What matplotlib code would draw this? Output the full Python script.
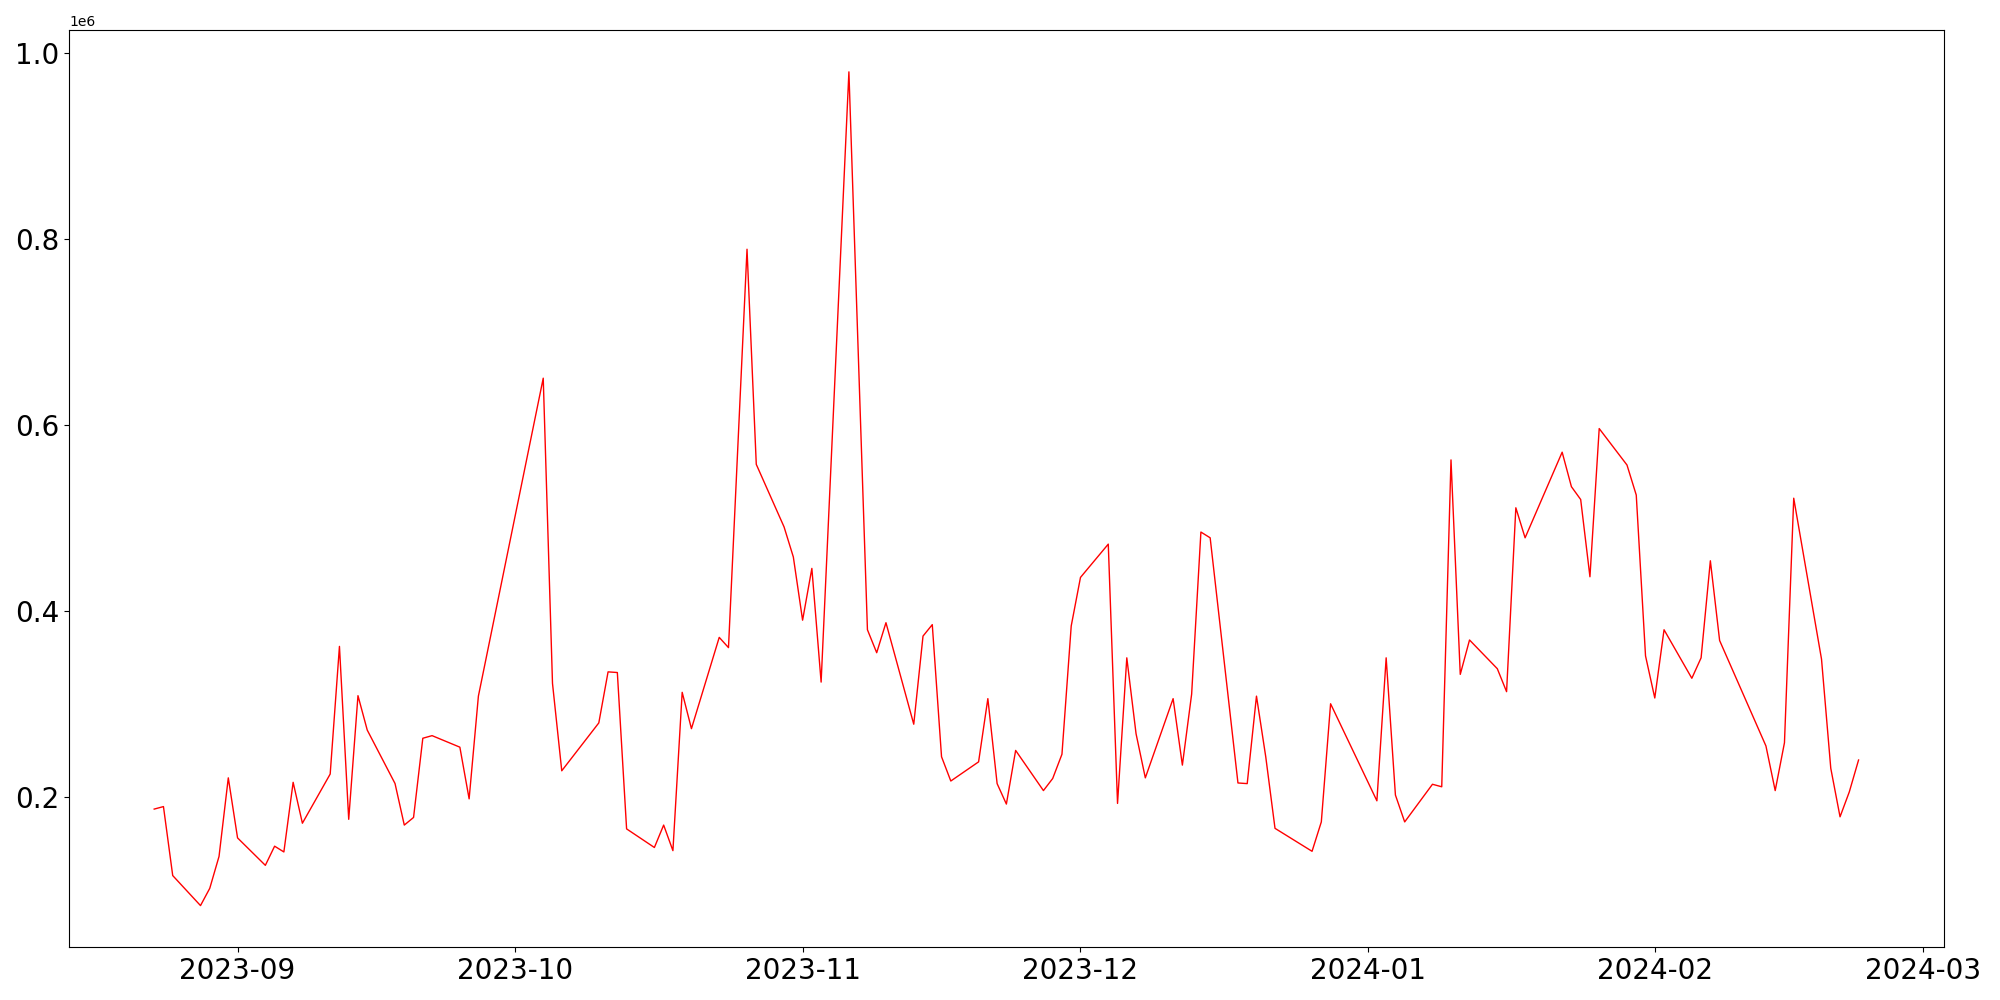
import matplotlib
matplotlib.use("Agg")
import matplotlib.pyplot as plt
import pandas as pd

# trading days (gaps = weekends / holidays / missing days)
dates = [
    "2023-08-23", "2023-08-24", "2023-08-25", "2023-08-28", "2023-08-29", "2023-08-30", "2023-08-31",
    "2023-09-01", "2023-09-04", "2023-09-05", "2023-09-06", "2023-09-07", "2023-09-08",
    "2023-09-11", "2023-09-12", "2023-09-13", "2023-09-14", "2023-09-15",
    "2023-09-18", "2023-09-19", "2023-09-20", "2023-09-21", "2023-09-22",
    "2023-09-25", "2023-09-26", "2023-09-27",
    "2023-10-04", "2023-10-05", "2023-10-06",
    "2023-10-10", "2023-10-11", "2023-10-12", "2023-10-13",
    "2023-10-16", "2023-10-17", "2023-10-18", "2023-10-19", "2023-10-20",
    "2023-10-23", "2023-10-24", "2023-10-26", "2023-10-27",
    "2023-10-30", "2023-10-31", "2023-11-01", "2023-11-02", "2023-11-03",
    "2023-11-06", "2023-11-08", "2023-11-09", "2023-11-10",
    "2023-11-13", "2023-11-14", "2023-11-15", "2023-11-16", "2023-11-17",
    "2023-11-20", "2023-11-21", "2023-11-22", "2023-11-23", "2023-11-24",
    "2023-11-27", "2023-11-28", "2023-11-29", "2023-11-30", "2023-12-01",
    "2023-12-04", "2023-12-05", "2023-12-06", "2023-12-07", "2023-12-08",
    "2023-12-11", "2023-12-12", "2023-12-13", "2023-12-14", "2023-12-15",
    "2023-12-18", "2023-12-19", "2023-12-20", "2023-12-21", "2023-12-22",
    "2023-12-26", "2023-12-27", "2023-12-28",
    "2024-01-02", "2024-01-03", "2024-01-04", "2024-01-05",
    "2024-01-08", "2024-01-09", "2024-01-10", "2024-01-11", "2024-01-12",
    "2024-01-15", "2024-01-16", "2024-01-17", "2024-01-18",
    "2024-01-22", "2024-01-23", "2024-01-24", "2024-01-25", "2024-01-26",
    "2024-01-29", "2024-01-30", "2024-01-31", "2024-02-01", "2024-02-02",
    "2024-02-05", "2024-02-06", "2024-02-07", "2024-02-08",
    "2024-02-13", "2024-02-14", "2024-02-15", "2024-02-16",
    "2024-02-19", "2024-02-20", "2024-02-21", "2024-02-22", "2024-02-23",
]

volume = [
    187000, 189700, 115500, 83200, 101800, 136100, 220600,
    156000, 126500, 147100, 140900, 215800, 171800,
    224700, 362000, 176000, 309000, 272000,
    214500, 169800, 178000, 263200, 266000,
    253600, 198000, 308500,
    650500, 322200, 228200,
    279700, 334600, 333900, 165700,
    145700, 169800, 142300, 312600, 273500,
    371700, 360700, 789200, 557800,
    490500, 458200, 390200, 445900, 323600,
    980000, 379900, 355200, 387500,
    278300, 373100, 385400, 243300, 217200,
    237800, 305800, 214400, 192400, 250100,
    206900, 219900, 246000, 384000, 436200,
    472000, 193100, 349700, 268000, 220600,
    305800, 234300, 310600, 485000, 478800,
    215100, 214400, 308500, 243300, 166300,
    141600, 173200, 300300,
    195900, 349700, 202100, 173200,
    213700, 211000, 562600, 331900, 368900,
    338000, 313300, 511100, 478800,
    570900, 533800, 520000, 436900, 596300,
    557100, 524800, 351800, 306500, 379900,
    327700, 349700, 454100, 368300,
    254900, 206900, 258400, 521400,
    348300, 230900, 178700, 205500, 239800,
]

df = pd.DataFrame({"date": pd.to_datetime(dates), "volume": volume})

fig, ax = plt.subplots(figsize=(20, 10), dpi=100)
ax.plot(df["date"], df["volume"], color="red", linewidth=1)
plt.xticks(fontsize=20)
plt.yticks(fontsize=20)
plt.tight_layout()
plt.savefig("out.png")
